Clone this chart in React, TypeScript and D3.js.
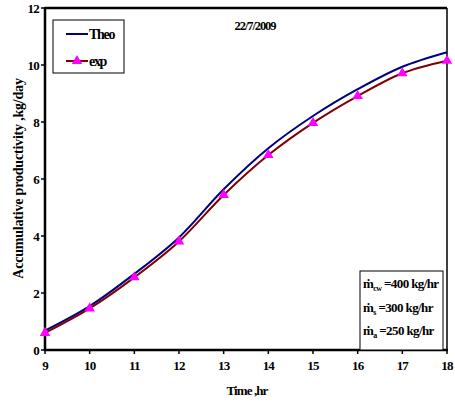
import React from "react";
import * as d3 from "d3";

const hours = [9, 10, 11, 12, 13, 14, 15, 16, 17, 18];
const theo = [0.68, 1.54, 2.67, 3.95, 5.64, 7.08, 8.21, 9.15, 9.94, 10.45];
const expVals = [0.6, 1.46, 2.55, 3.81, 5.44, 6.84, 7.97, 8.91, 9.71, 10.15];
const yTicks = [0, 2, 4, 6, 8, 10, 12];
const seriesNames = ["Theo", "exp"];
const title = "22/7/2009";
const xLabel = "Time ,hr";
const yLabel = "Accumulative productivity ,kg/day";

export default function App() {
  const W = 455, H = 404;
  const left = 45, right = 447, top = 8, bottom = 350;
  const x = d3.scaleLinear().domain([9, 18]).range([left, right]);
  const y = d3.scaleLinear().domain([0, 12]).range([bottom, top]);
  const line = d3
    .line<number>()
    .x((_, i) => x(hours[i]))
    .y((d) => y(d))
    .curve(d3.curveCatmullRom.alpha(0.5));
  const tri = d3.symbol().type(d3.symbolTriangle).size(48)() as string;
  const font = "Liberation Serif";
  const ts = { fontFamily: font, fontWeight: 700 as const };

  return (
    <svg
      width={W}
      height={H}
      style={{ position: "absolute", left: 0, top: 0, background: "#fff" }}
    >
      {/* frame */}
      <line x1={left} x2={right} y1={top} y2={top} stroke="#000" strokeWidth={2.5} />
      <line x1={right} x2={right} y1={top} y2={bottom} stroke="#000" strokeWidth={1.5} />
      <line x1={left} x2={left} y1={top - 1} y2={bottom + 1} stroke="#000" strokeWidth={2.5} />
      <line x1={left - 1} x2={right + 1} y1={bottom} y2={bottom} stroke="#000" strokeWidth={2.5} />

      {/* y ticks */}
      {yTicks.map((t) => (
        <g key={"y" + t}>
          <line x1={left - 4} x2={left} y1={y(t)} y2={y(t)} stroke="#000" strokeWidth={1.5} />
          <text
            x={left - 6}
            y={y(t) + 4.5}
            textAnchor="end"
            fontSize={13}
            letterSpacing={-0.8}
            style={ts}
          >
            {t}
          </text>
        </g>
      ))}
      {/* x ticks */}
      {hours.map((h) => (
        <g key={"x" + h}>
          <line x1={x(h)} x2={x(h)} y1={bottom} y2={bottom + 4} stroke="#000" strokeWidth={1.5} />
          <text
            x={x(h)}
            y={bottom + 20}
            textAnchor="middle"
            fontSize={13}
            letterSpacing={-0.8}
            style={ts}
          >
            {h}
          </text>
        </g>
      ))}

      {/* axis labels */}
      <text x={247} y={395} textAnchor="middle" fontSize={13} letterSpacing={-0.9} style={ts}>
        {xLabel}
      </text>
      <text
        transform={`translate(23, ${(67 + 290) / 2}) rotate(-90)`}
        textAnchor="middle"
        fontSize={14}
        letterSpacing={-0.2}
        style={ts}
      >
        {yLabel}
      </text>

      {/* title */}
      <text x={255} y={30} textAnchor="middle" fontSize={12.5} letterSpacing={-1.1} style={ts}>
        {title}
      </text>

      {/* lines */}
      <path d={line(theo) || ""} fill="none" stroke="#000080" strokeWidth={2} />
      <path d={line(expVals) || ""} fill="none" stroke="#800000" strokeWidth={2} />
      {expVals.map((v, i) => (
        <path key={"m" + i} d={tri} transform={`translate(${x(hours[i])},${y(v)})`} fill="#ff00ff" />
      ))}

      {/* legend */}
      <rect x={53} y={20} width={71} height={53} fill="#fff" stroke="#000" strokeWidth={1} />
      <line x1={66} x2={88} y1={34} y2={34} stroke="#000080" strokeWidth={2} />
      <text x={89} y={39} fontSize={14} letterSpacing={-1.3} style={ts}>
        {seriesNames[0]}
      </text>
      <line x1={66} x2={88} y1={61} y2={61} stroke="#800000" strokeWidth={2} />
      <path d={tri} transform="translate(77,61)" fill="#ff00ff" />
      <text x={89} y={66} fontSize={14} letterSpacing={-1.3} style={ts}>
        {seriesNames[1]}
      </text>

      {/* conditions box */}
      <rect x={360} y={271} width={83} height={79} fill="#fff" stroke="#000" strokeWidth={1} />
      <g fontSize={13} letterSpacing={-0.6} style={ts}>
        <text x={363} y={288}>
          ṁ<tspan fontSize={8} dy={3}>cw</tspan>
          <tspan dy={-3}> =400 kg/hr</tspan>
        </text>
        <text x={363} y={312}>
          ṁ<tspan fontSize={8} dy={3}>s</tspan>
          <tspan dy={-3}>  =300 kg/hr</tspan>
        </text>
        <text x={363} y={335}>
          ṁ<tspan fontSize={8} dy={3}>a</tspan>
          <tspan dy={-3}>  =250 kg/hr</tspan>
        </text>
      </g>
    </svg>
  );
}
